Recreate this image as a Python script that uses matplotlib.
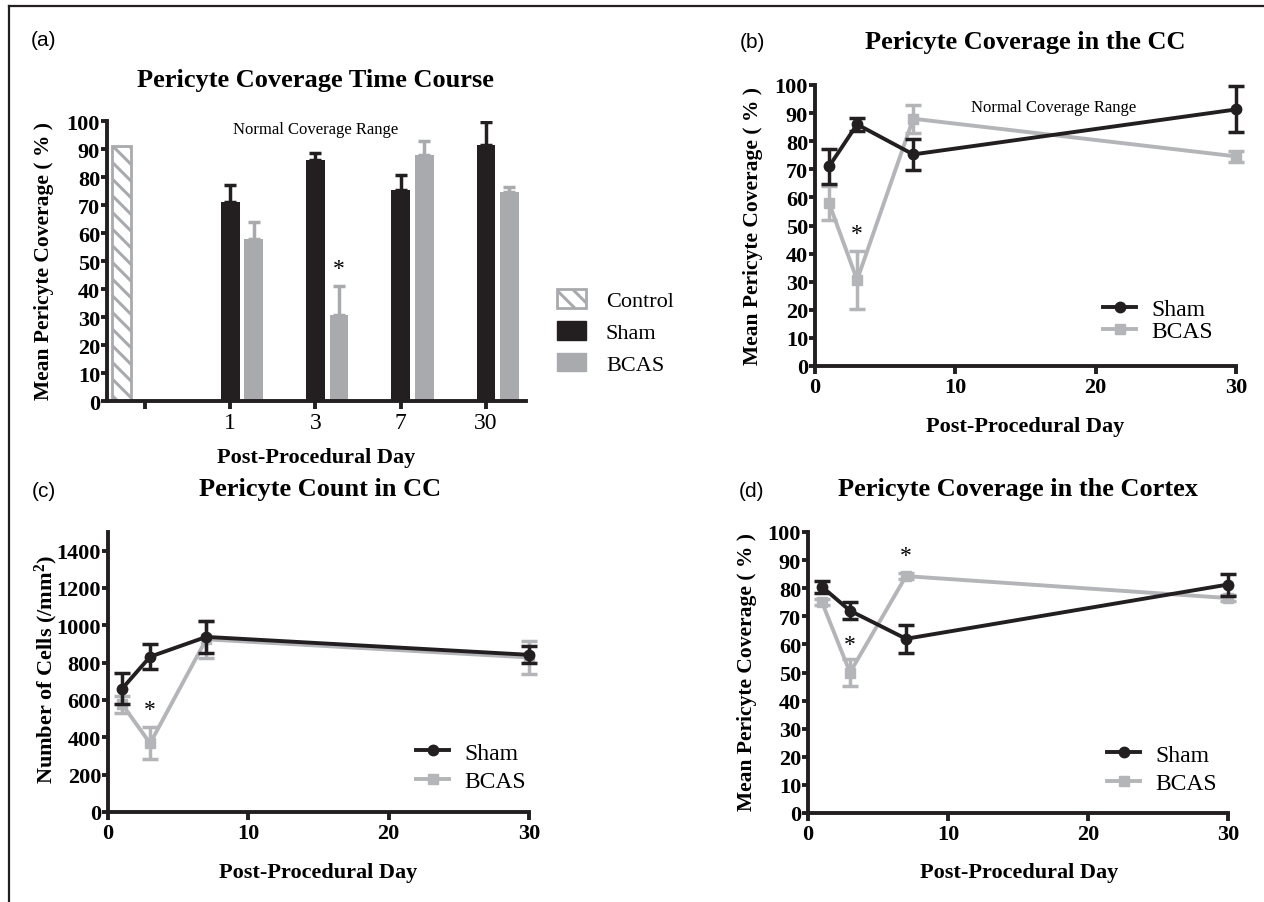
import matplotlib
matplotlib.use("Agg")
import matplotlib.pyplot as plt
from matplotlib.lines import Line2D
from matplotlib.patches import Patch

# ---------------- data ----------------
days = [1, 3, 7, 30]
bar_categories = ["", "1", "3", "7", "30"]

control_cov = [91]
cc_cov_sham = [71, 86, 75.3, 91.3]
cc_cov_sham_err = [6.2, 2.4, 5.5, 8.2]
cc_cov_bcas = [58, 30.6, 88, 74.6]
cc_cov_bcas_err = [6, 10.3, 5, 2]

count_sham = [660, 832, 938, 842]
count_sham_err = [82, 67, 86, 45]
count_bcas = [578, 368, 925, 828]
count_bcas_err = [45, 85, 100, 90]

cortex_sham = [80.5, 72, 62, 81.3]
cortex_sham_err = [2.2, 3, 5, 3.9]
cortex_bcas = [75, 50, 84.3, 76.5]
cortex_bcas_err = [1, 4.7, 1, 1]

# ---------------- style ----------------
BLACK = "#231f20"
GRAY_BAR = "#a9aaad"
GRAY_LINE = "#b4b5b8"
SERIF = ["Liberation Serif", "DejaVu Serif"]
SANS = ["Liberation Sans", "DejaVu Sans"]
plt.rcParams["font.family"] = SERIF
plt.rcParams["hatch.linewidth"] = 2.2
plt.rcParams["mathtext.fontset"] = "custom"
plt.rcParams["mathtext.rm"] = "Liberation Serif:bold"
plt.rcParams["mathtext.bf"] = "Liberation Serif:bold"
plt.rcParams["mathtext.it"] = "Liberation Serif:bold:italic"

SPINE_LW = 2.8
LINE_LW = 2.8
TICK_FS = 16

W, H = 1264, 903
fig = plt.figure(figsize=(W / 100, H / 100), dpi=100)


def px_axes(x0, x1, ytop, ybot):
    return fig.add_axes([x0 / W, 1 - ybot / H, (x1 - x0) / W, (ybot - ytop) / H])


def ftext(x, y, s, **kw):
    fig.text(x / W, 1 - y / H, s, ha="center", va="center", **kw)


def style_axes(ax, xbold=True):
    for s in ["top", "right"]:
        ax.spines[s].set_visible(False)
    for s in ["left", "bottom"]:
        ax.spines[s].set_linewidth(SPINE_LW)
        ax.spines[s].set_color(BLACK)
        ax.spines[s].set_capstyle("projecting")
    ax.tick_params(axis="y", direction="out", length=4.5, width=SPINE_LW, color=BLACK,
                   pad=0.5, labelsize=TICK_FS)
    ax.tick_params(axis="x", direction="out", length=6, width=SPINE_LW, color=BLACK,
                   pad=2, labelsize=TICK_FS)
    for lab in ax.get_yticklabels():
        lab.set_fontweight("bold")
    if xbold:
        for lab in ax.get_xticklabels():
            lab.set_fontweight("bold")


# ---------------- panel (a) ----------------
axa = px_axes(107, 526, 122, 402)
xs = list(range(len(bar_categories)))
off, bw = 0.276, 0.22
axa.bar([xs[0] - off], control_cov, width=bw, color="white", edgecolor=GRAY_BAR,
        hatch="\\\\", linewidth=2, zorder=2)
axa.bar(xs[1:], cc_cov_sham, width=bw, color=BLACK, zorder=2,
        yerr=[[0] * 4, cc_cov_sham_err], error_kw=dict(ecolor=BLACK, elinewidth=2.5,
                                                       capsize=4.5, capthick=2.5))
axa.bar([x + off for x in xs[1:]], cc_cov_bcas, width=bw, color=GRAY_BAR, zorder=2,
        yerr=[[0] * 4, cc_cov_bcas_err], error_kw=dict(ecolor=GRAY_BAR, elinewidth=2.5,
                                                       capsize=4.5, capthick=2.5))
axa.set_xlim(-0.446, 4.47)
axa.set_ylim(0, 100)
axa.set_yticks(range(0, 101, 10))
axa.set_xticks(xs)
axa.set_xticklabels(bar_categories)
style_axes(axa, xbold=False)
axa.tick_params(axis="x", labelsize=17, pad=2)
axa.text(2 + off, cc_cov_bcas[1] + cc_cov_bcas_err[1] + 2.5, "*", ha="center",
         va="bottom", fontsize=17)
axa.text(2, 97, "Normal Coverage Range", ha="center", va="center", fontsize=12)
ftext(44, 41, "(a)", fontsize=15, family=SANS)
ftext(315, 81, "Pericyte Coverage Time Course", fontsize=19, fontweight="bold")
ftext(44, 261, "Mean Pericyte Coverage ( % )", fontsize=15.5, fontweight="bold",
      rotation=90)
ftext(316, 458, "Post-Procedural Day", fontsize=16, fontweight="bold")
handles_a = [Patch(facecolor="white", edgecolor=GRAY_BAR, hatch="\\\\", linewidth=2),
             Patch(facecolor=BLACK, edgecolor=BLACK),
             Patch(facecolor=GRAY_BAR, edgecolor=GRAY_BAR)]
fig.legend(handles_a, ["Control", "Sham", "BCAS"], loc="center left",
           bbox_to_anchor=(557 / W, 1 - 333 / H), frameon=False, fontsize=16,
           handlelength=1.3, handleheight=0.9, handletextpad=0.9, labelspacing=0.45,
           borderpad=0, borderaxespad=0)


# ---------------- line panels ----------------
def line_panel(ax, sham, sham_err, bcas, bcas_err):
    ax.errorbar(days, bcas, yerr=bcas_err, color=GRAY_LINE, lw=LINE_LW, marker="s",
                ms=6.8, mec=GRAY_LINE, mfc=GRAY_LINE, ecolor=GRAY_LINE, elinewidth=2.5,
                capsize=5.5, capthick=2.5, clip_on=False, zorder=3)
    ax.errorbar(days, sham, yerr=sham_err, color=BLACK, lw=LINE_LW, marker="o",
                ms=7.5, mec=BLACK, mfc=BLACK, ecolor=BLACK, elinewidth=2.5,
                capsize=5.5, capthick=2.5, clip_on=False, zorder=4)
    ax.set_xlim(0, 30)
    ax.set_xticks([0, 10, 20, 30])


def line_legend(ax, xl, ymid, spacing):
    hs = [Line2D([], [], color=BLACK, lw=LINE_LW, marker="o", ms=7.5),
          Line2D([], [], color=GRAY_LINE, lw=LINE_LW, marker="s", ms=6.8)]
    ax.legend(hs, ["Sham", "BCAS"], loc="center left",
              bbox_to_anchor=(xl / W, 1 - ymid / H), bbox_transform=fig.transFigure,
              frameon=False, fontsize=17, handlelength=1.4, handletextpad=0.65,
              labelspacing=spacing, borderpad=0, borderaxespad=0)


# (b)
axb = px_axes(815, 1236, 86, 367)
line_panel(axb, cc_cov_sham, cc_cov_sham_err, cc_cov_bcas, cc_cov_bcas_err)
axb.set_ylim(0, 100)
axb.set_yticks(range(0, 101, 10))
style_axes(axb)
axb.text(days[1], cc_cov_bcas[1] + cc_cov_bcas_err[1] + 2.5, "*", ha="center",
         va="bottom", fontsize=17)
axb.text(17, 92, "Normal Coverage Range", ha="center", va="center", fontsize=12)
line_legend(axb, 1103, 321, 0.02)
ftext(752, 42, "(b)", fontsize=15, family=SANS)
ftext(1025, 43, "Pericyte Coverage in the CC", fontsize=19, fontweight="bold")
ftext(753, 226, "Mean Pericyte Coverage ( % )", fontsize=15.5, fontweight="bold",
      rotation=90)
ftext(1025, 427, "Post-Procedural Day", fontsize=16, fontweight="bold")

# (c)
axc = px_axes(108, 529, 533, 813)
line_panel(axc, count_sham, count_sham_err, count_bcas, count_bcas_err)
axc.set_ylim(0, 1500)
axc.set_yticks(range(0, 1401, 200))
style_axes(axc)
axc.text(days[1], count_bcas[1] + count_bcas_err[1] + 40, "*", ha="center",
         va="bottom", fontsize=17)
line_legend(axc, 416, 768, 0.28)
ftext(44, 492, "(c)", fontsize=15, family=SANS)
ftext(320, 490, "Pericyte Count in CC", fontsize=19, fontweight="bold")
ftext(46, 670, r"Number of Cells (/mm$^{2}$)", fontsize=16, fontweight="bold",
      rotation=90)
ftext(318, 873, "Post-Procedural Day", fontsize=16, fontweight="bold")

# (d)
axd = px_axes(808, 1228, 533, 814)
line_panel(axd, cortex_sham, cortex_sham_err, cortex_bcas, cortex_bcas_err)
axd.set_ylim(0, 100)
axd.set_yticks(range(0, 101, 10))
style_axes(axd)
axd.text(days[1], cortex_bcas[1] + cortex_bcas_err[1] + 1.5, "*", ha="center",
         va="bottom", fontsize=17)
axd.text(days[2], cortex_bcas[2] + cortex_bcas_err[2] + 2.5, "*", ha="center",
         va="bottom", fontsize=17)
line_legend(axd, 1107, 770, 0.28)
ftext(752, 492, "(d)", fontsize=15, family=SANS)
ftext(1018, 490, "Pericyte Coverage in the Cortex", fontsize=19, fontweight="bold")
ftext(747, 672, "Mean Pericyte Coverage ( % )", fontsize=15.5, fontweight="bold",
      rotation=90)
ftext(1019, 873, "Post-Procedural Day", fontsize=16, fontweight="bold")

# figure frame (left and top edges)
fig.add_artist(Line2D([9 / W, 9 / W], [0, 1 - 7 / H], color=BLACK, lw=1.6,
                      transform=fig.transFigure))
fig.add_artist(Line2D([9 / W, 1], [1 - 7 / H, 1 - 7 / H], color=BLACK, lw=1.6,
                      transform=fig.transFigure))

fig.savefig("out.png", dpi=100)
